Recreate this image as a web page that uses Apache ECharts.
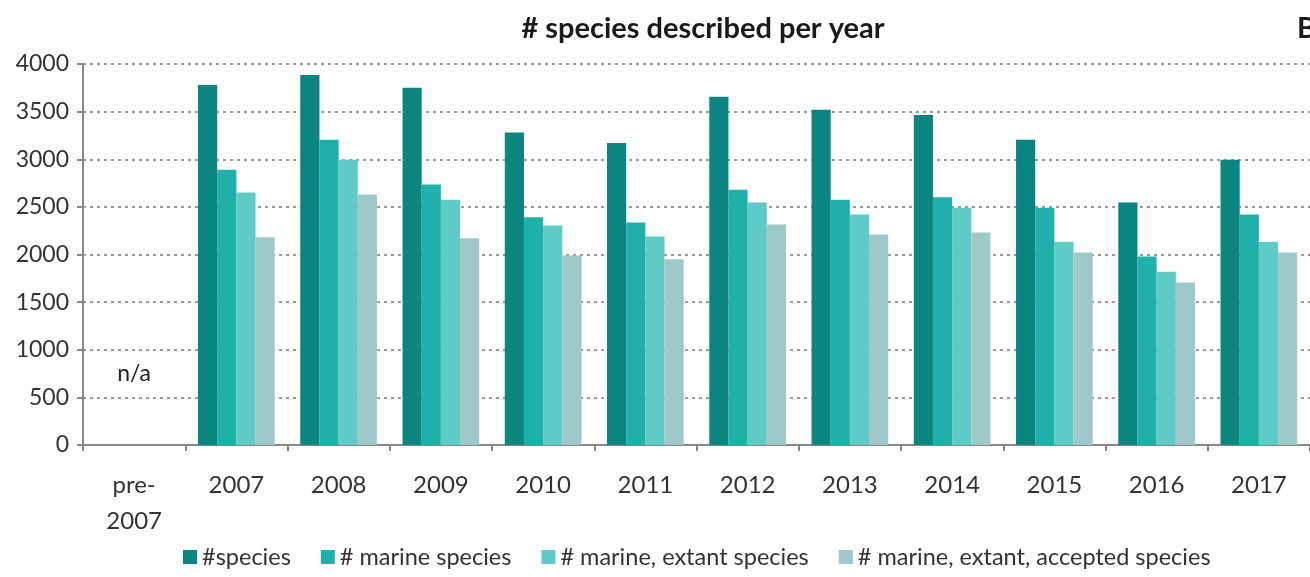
<!DOCTYPE html>
<html>
<head>
<meta charset="utf-8">
<script src="https://cdn.jsdelivr.net/npm/echarts@6/dist/echarts.min.js"></script>
<style>
  html, body { margin: 0; padding: 0; background: #fff; }
  #main { width: 1310px; height: 577px; }
</style>
</head>
<body>
<div id="main"></div>
<script>
// categories and values
var years = ['pre-\n2007', '2007', '2008', '2009', '2010', '2011', '2012', '2013', '2014', '2015', '2016', '2017'];
var seriesNames = ['#species', '# marine species', '# marine, extant species', '# marine, extant, accepted species'];
var speciesAll = [null, 3780, 3885, 3750, 3280, 3170, 3655, 3520, 3465, 3205, 2545, 2995];
var marine = [null, 2890, 3205, 2735, 2390, 2335, 2680, 2575, 2600, 2490, 1980, 2420];
var marineExtant = [null, 2650, 2995, 2575, 2305, 2190, 2545, 2420, 2490, 2135, 1820, 2135];
var marineAccepted = [null, 2180, 2630, 2170, 1990, 1950, 2315, 2210, 2230, 2020, 1705, 2020];
var yTicks = { min: 0, max: 4000, interval: 500 };
var naNote = [['pre-\n2007', 750, 'n/a']];

var colors = ['#0b8580', '#20b0aa', '#5fcbc7', '#9ec9c8'];
var fontFam = 'Lato, "Open Sans", sans-serif';

var myChart = echarts.init(document.getElementById('main'));

var allData = [speciesAll, marine, marineExtant, marineAccepted];
var series = [];
for (var i = 0; i < 4; i++) {
    series.push({
        name: seriesNames[i],
        type: 'bar',
        barGap: '0%',
        barCategoryGap: '25%',
        itemStyle: { color: colors[i] },
        data: allData[i]
    });
}
// "n/a" note for the pre-2007 column
series.push({
    name: 'note',
    type: 'scatter',
    symbolSize: 0,
    silent: true,
    itemStyle: { opacity: 1, color: '#222' },
    label: {
        show: true,
        position: 'inside',
        formatter: function (p) { return p.data[2]; },
        color: '#222',
        opacity: 1,
        fontSize: 23,
        fontFamily: fontFam
    },
    data: naNote
});

option = {
    animation: false,
    title: [{
        text: '# species described per year',
        left: 698,
        textAlign: 'center',
        top: 9,
        textStyle: { fontSize: 29, fontWeight: 'bold', color: '#1a1a1a', fontFamily: fontFam }
    }, {
        text: 'B',
        left: 1292,
        top: 9,
        textStyle: { fontSize: 29, fontWeight: 'bold', color: '#1a1a1a', fontFamily: fontFam }
    }],
    legend: {
        data: seriesNames,
        left: 178,
        bottom: 3,
        itemWidth: 14,
        itemHeight: 14,
        itemGap: 30,
        icon: 'rect',
        textStyle: { fontSize: 23.5, color: '#333', fontFamily: fontFam }
    },
    grid: {
        left: 83,
        right: -2,
        top: 64,
        bottom: 132
    },
    xAxis: {
        type: 'category',
        data: years,
        axisLine: { lineStyle: { color: '#888', width: 2 } },
        axisTick: { show: true, length: 6, lineStyle: { color: '#888', width: 2 } },
        axisLabel: {
            fontSize: 24,
            color: '#333',
            margin: 22,
            lineHeight: 36,
            fontFamily: fontFam
        }
    },
    yAxis: {
        type: 'value',
        min: yTicks.min,
        max: yTicks.max,
        interval: yTicks.interval,
        axisLine: { show: true, lineStyle: { color: '#888', width: 2 } },
        axisTick: { show: true, length: 6, lineStyle: { color: '#888', width: 2 } },
        axisLabel: {
            fontSize: 23,
            color: '#333',
            margin: 14,
            fontFamily: fontFam,
            formatter: function (v) { return String(v); }
        },
        splitLine: { lineStyle: { color: '#9a9a9a', type: [3, 4], width: 2 } }
    },
    series: series
};

myChart.setOption(option);
</script>
</body>
</html>
